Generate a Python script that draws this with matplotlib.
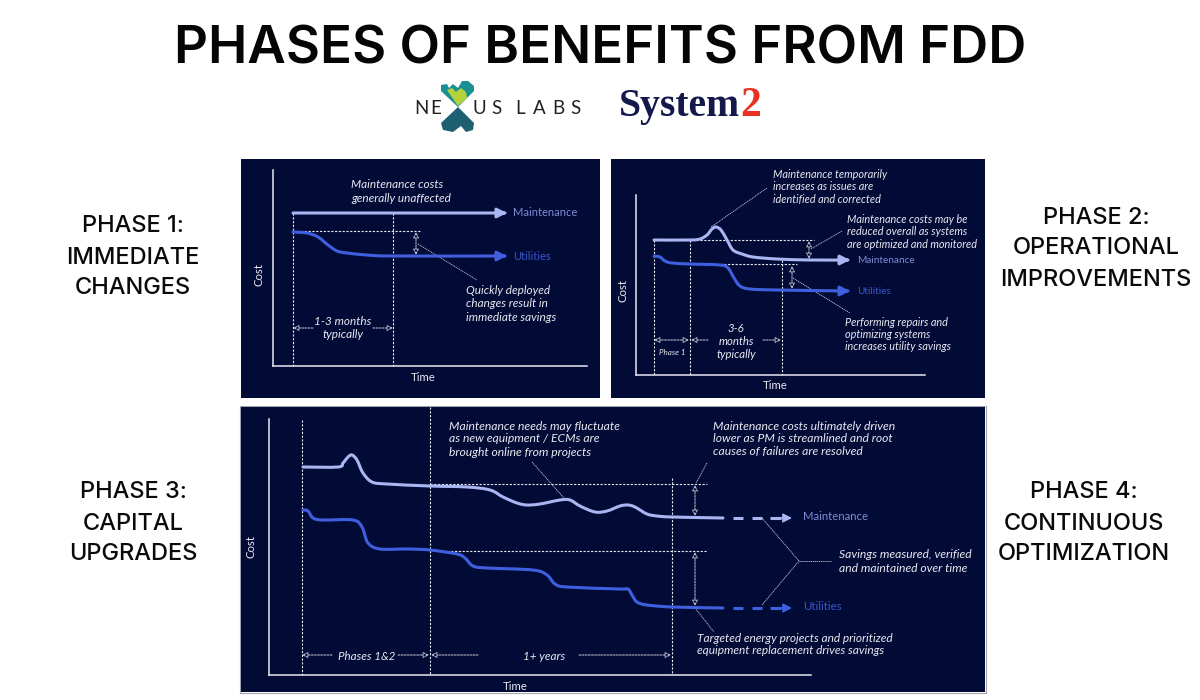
from __future__ import annotations

import matplotlib

matplotlib.use("Agg")
import matplotlib.pyplot as plt
from matplotlib.patches import PathPatch, Polygon, Rectangle
from matplotlib.path import Path

FONT = "Lato"
HEAD_FONT = "Inter"
NAVY = "#020a36"
WHITE = "#e9e9f0"
MAINT = "#a9b6f2"
UTIL = "#3f60de"
MAINT_LABEL = "#7c8bd6"
UTIL_LABEL = "#3c57cf"

# all series below are in reference image pixels (x right, y down)
P1_BOX = (241, 600, 159, 398)
P1_AXIS = (273, 587, 170, 366)
P1_MAINT_X = [293, 505]
P1_MAINT_Y = [213, 213]
P1_UTIL_X = [293, 307, 318, 328, 337, 347, 367, 393, 505]
P1_UTIL_Y = [232, 233, 237, 245, 251, 253, 255, 256, 256]

P2_BOX = (611, 985, 159, 398)
P2_AXIS = (636, 925, 195, 375)
P2_MAINT_X = [654, 690, 700, 707, 712, 716, 721, 727, 733, 742, 753, 777, 810, 848]
P2_MAINT_Y = [240, 240, 239, 235, 229, 227, 230, 240, 250, 254, 257, 259, 260, 260]
P2_UTIL_X = [654, 660, 665, 672, 690, 720, 728, 734, 740, 750, 777, 848]
P2_UTIL_Y = [256, 257, 261, 263, 264, 265, 268, 278, 286, 289, 290, 291]

P3_BOX = (241, 985, 407, 692)
P3_AXIS = (269, 811, 419, 675)
P3_MAINT_X = [303, 338, 343, 348, 352, 357, 363, 372, 387, 430, 467, 490, 503,
              517, 527, 540, 560, 570, 580, 595, 607, 620, 628, 635, 647, 657, 672, 723]
P3_MAINT_Y = [467, 467, 463, 457, 455, 460, 473, 482, 484, 486, 487, 490, 497,
              503, 505, 504, 500, 500, 506, 512, 511, 506, 505, 507, 514, 516, 517, 518]
P3_UTIL_X = [303, 308, 313, 323, 353, 362, 368, 380, 407, 430, 457, 465, 473,
             487, 533, 547, 555, 567, 620, 628, 632, 637, 647, 672, 723]
P3_UTIL_Y = [510, 511, 518, 520, 520, 527, 543, 549, 549, 550, 554, 558, 566,
             568, 570, 575, 584, 587, 589, 589, 595, 602, 605, 607, 608]
P3_MAINT_DASH_X = [733, 743, 752, 762, 770, 781]
P3_UTIL_DASH_X = [733, 743, 752, 762, 770, 781]
P3_MAINT_DASH_Y = 518
P3_UTIL_DASH_Y = 608

SIDE_LABELS = [
    (133, ["PHASE 1:", "IMMEDIATE", "CHANGES"], [224, 255, 286]),
    (1096, ["PHASE 2:", "OPERATIONAL", "IMPROVEMENTS"], [215, 246, 277]),
    (133, ["PHASE 3:", "CAPITAL", "UPGRADES"], [490, 521, 552]),
    (1084, ["PHASE 4:", "CONTINUOUS", "OPTIMIZATION"], [490, 521, 552]),
]

NEXUS_LETTERS = ["N", "E", "U", "S", "L", "A", "B", "S"]
NEXUS_X = [414, 430, 472, 491, 515, 533, 552, 570]


def make_panel(fig, box, axis):
    x0, x1, y0, y1 = box
    ax = fig.add_axes([x0 / 1200, 1 - y1 / 700, (x1 - x0) / 1200, (y1 - y0) / 700])
    ax.set_xlim(x0, x1)
    ax.set_ylim(y1, y0)
    ax.set_facecolor(NAVY)
    ax.set_xticks([])
    ax.set_yticks([])
    ax.spines[["top", "right"]].set_visible(False)
    ax.spines["left"].set_position(("data", axis[0]))
    ax.spines["left"].set_bounds(axis[2], axis[3])
    ax.spines["bottom"].set_position(("data", axis[3]))
    ax.spines["bottom"].set_bounds(axis[0], axis[1])
    for side in ("left", "bottom"):
        ax.spines[side].set_color(WHITE)
        ax.spines[side].set_linewidth(1.1)
    return ax


def dashed(ax, xs, ys, lw=0.8):
    ax.plot(xs, ys, color=WHITE, lw=lw, ls=(0, (2, 1.4)), zorder=2)


def leader(ax, xs, ys):
    ax.plot(xs, ys, color="#c8c8d4", lw=0.6, ls=(0, (1.5, 0.8)), zorder=2)


def span(ax, x0, y0, x1, y1, both=True):
    style = "<|-|>" if both else "-|>"
    ax.annotate("", xy=(x1, y1), xytext=(x0, y0),
                arrowprops=dict(arrowstyle=style + ",head_width=0.17,head_length=0.35",
                                color="#c8c8d4", lw=0.7, ls=(0, (2, 1.2)),
                                shrinkA=0, shrinkB=0, fc=NAVY),
                zorder=3)


def smooth_path(xs, ys):
    # catmull-rom style bezier through the read points, no extra data
    pts = list(zip(xs, ys))
    verts = [pts[0]]
    codes = [Path.MOVETO]
    for i in range(len(pts) - 1):
        p0 = pts[max(i - 1, 0)]
        p1 = pts[i]
        p2 = pts[i + 1]
        p3 = pts[min(i + 2, len(pts) - 1)]
        c1 = (p1[0] + (p2[0] - p0[0]) / 6, p1[1] + (p2[1] - p0[1]) / 6)
        c2 = (p2[0] - (p3[0] - p1[0]) / 6, p2[1] - (p3[1] - p1[1]) / 6)
        verts += [c1, c2, p2]
        codes += [Path.CURVE4] * 3
    return Path(verts, codes)


def curve(ax, xs, ys, color, tip=None):
    ax.add_patch(PathPatch(smooth_path(xs, ys), fc="none", ec=color, lw=2.2,
                           capstyle="round", zorder=4))
    if tip is not None:
        ax.annotate("", xy=(tip, ys[-1]), xytext=(xs[-1] - 4, ys[-1]),
                    arrowprops=dict(arrowstyle="-|>,head_width=0.28,head_length=0.55",
                                    color=color, lw=2.2, shrinkA=0, shrinkB=0),
                    zorder=4)


def note(ax, x, ys, lines, size=8.2, ha="left"):
    for y, line in zip(ys, lines):
        ax.text(x, y, line, color=WHITE, fontsize=size, style="italic", family=FONT,
                ha=ha, va="center", zorder=5)


def axis_names(ax, tx, ty, cx, cy, size=8.2):
    ax.text(tx, ty, "Time", color=WHITE, fontsize=size, family=FONT, ha="center", va="center")
    ax.text(cx, cy, "Cost", color=WHITE, fontsize=size, family=FONT, ha="center", va="center",
            rotation=90)


def series_label(ax, x, y, name, color, size=8.6):
    ax.text(x, y, name, color=color, fontsize=size, family=FONT, ha="left", va="center")


fig = plt.figure(figsize=(12, 7), dpi=100, facecolor="white")

# page layer for title, logos and side labels
page = fig.add_axes([0, 0, 1, 1])
page.set_xlim(0, 1200)
page.set_ylim(700, 0)
page.axis("off")

page.text(600, 44, "PHASES OF BENEFITS FROM FDD", fontsize=38, family=HEAD_FONT, weight="semibold",
          color="#050505", ha="center", va="center_baseline")
for x, lines, ys in SIDE_LABELS:
    for y, line in zip(ys, lines):
        page.text(x, y, line, fontsize=17, family=HEAD_FONT, weight="medium", color="#0a0a0a",
                  ha="center", va="center_baseline")

# nexus labs logo
page.add_patch(Polygon([(441, 85), (447, 84), (449, 88), (453, 84), (458, 88), (462, 81),
                        (468, 81), (474, 86), (474, 91), (458, 107), (441, 91)],
                       fc="#1c8f93", ec="none"))
page.add_patch(Polygon([(447, 90), (452, 88), (456, 92), (461, 88), (466, 92), (467, 98),
                        (458, 106)], fc="#b5d23c", ec="none"))
page.add_patch(Polygon([(458, 107), (474, 123), (473, 130), (466, 132), (461, 126), (453, 132),
                        (443, 130), (441, 123)], fc="#1d6072", ec="none"))
for x, ch in zip(NEXUS_X, NEXUS_LETTERS):
    page.text(x, 107, ch, fontsize=13.5, family=FONT, color="#222222", ha="left", va="center_baseline")

# system2 logo
page.text(619, 116, "System", fontsize=28.5, family="Liberation Serif", weight="bold",
          color="#14184a", ha="left", va="baseline")
page.text(740, 116, "2", fontsize=30, family="Liberation Serif", weight="bold",
          color="#e8321f", ha="left", va="baseline")

# thin grey edge round the big panel
page.add_patch(Rectangle((240, 406), 746, 287, fc="none", ec="#a4a4b0", lw=0.8))

# phase 1 panel
ax1 = make_panel(fig, P1_BOX, P1_AXIS)
for x, y0 in [(293, 213), (393, 213)]:
    dashed(ax1, [x, x], [y0, 366])
dashed(ax1, [293, 420], [231, 231])
span(ax1, 416, 232, 416, 255)
leader(ax1, [418, 477], [244, 280])
curve(ax1, P1_MAINT_X, P1_MAINT_Y, MAINT, tip=507)
curve(ax1, P1_UTIL_X, P1_UTIL_Y, UTIL, tip=507)
span(ax1, 313, 328, 293, 328, both=False)
span(ax1, 373, 328, 393, 328, both=False)
note(ax1, 351, [184, 198], ["Maintenance costs", "generally unaffected"], size=8.5)
note(ax1, 466, [290, 303, 317], ["Quickly deployed", "changes result in", "immediate savings"], size=8.5)
note(ax1, 343, [321, 334], ["1-3 months", "typically"], ha="center", size=8.5)
series_label(ax1, 513, 212, "Maintenance", MAINT_LABEL, size=8)
series_label(ax1, 513, 256, "Utilities", UTIL_LABEL, size=8)
axis_names(ax1, 423, 377, 259, 274)

# phase 2 panel
ax2 = make_panel(fig, P2_BOX, P2_AXIS)
for x, y0 in [(654, 240), (690, 240), (782, 260)]:
    dashed(ax2, [x, x], [y0, 375])
dashed(ax2, [700, 814], [240, 240])
dashed(ax2, [720, 797], [264, 264])
span(ax2, 809, 241, 809, 259)
span(ax2, 792, 266, 792, 289)
leader(ax2, [711, 767], [227, 188])
leader(ax2, [811, 842], [249, 231])
leader(ax2, [793, 850], [278, 313])
curve(ax2, P2_MAINT_X, P2_MAINT_Y, MAINT, tip=850)
curve(ax2, P2_UTIL_X, P2_UTIL_Y, UTIL, tip=850)
span(ax2, 654, 340, 689, 340)
span(ax2, 708, 340, 691, 340, both=False)
span(ax2, 763, 340, 781, 340, both=False)
note(ax2, 773, [174, 187, 199], ["Maintenance temporarily", "increases as issues are", "identified and corrected"],
     size=7.8)
note(ax2, 847, [219, 231, 244], ["Maintenance costs may be", "reduced overall as systems", "are optimized and monitored"],
     size=7.8)
note(ax2, 845, [322, 334, 346], ["Performing repairs and", "optimizing systems", "increases utility savings"],
     size=7.8)
note(ax2, 736, [328, 341, 354], ["3-6", "months", "typically"], ha="center")
note(ax2, 672, [352], ["Phase 1"], size=5.8, ha="center")
series_label(ax2, 857, 260, "Maintenance", MAINT_LABEL, size=7.2)
series_label(ax2, 857, 291, "Utilities", UTIL_LABEL, size=7.2)
axis_names(ax2, 775, 385, 623, 290)

# phase 3/4 panel
ax3 = make_panel(fig, P3_BOX, P3_AXIS)
for x, y0 in [(302, 420), (430, 407), (672, 478)]:
    dashed(ax3, [x, x], [y0, 675])
dashed(ax3, [430, 707], [484, 484])
dashed(ax3, [447, 707], [551, 551])
span(ax3, 695, 485, 695, 516)
span(ax3, 695, 552, 695, 606)
leader(ax3, [707, 696], [463, 483])
leader(ax3, [532, 564], [462, 498])
leader(ax3, [762, 799, 762], [518, 561, 605])
leader(ax3, [799, 831], [561, 561])
leader(ax3, [695, 714], [608, 632])
curve(ax3, P3_MAINT_X, P3_MAINT_Y, MAINT)
curve(ax3, P3_UTIL_X, P3_UTIL_Y, UTIL)
for xs, y, color in [(P3_MAINT_DASH_X, P3_MAINT_DASH_Y, MAINT), (P3_UTIL_DASH_X, P3_UTIL_DASH_Y, UTIL)]:
    for i in range(0, len(xs), 2):
        ax3.plot(xs[i:i + 2], [y, y], color=color, lw=2.2, solid_capstyle="butt", zorder=4)
    ax3.annotate("", xy=(792, y), xytext=(780, y),
                 arrowprops=dict(arrowstyle="-|>,head_width=0.28,head_length=0.55",
                                 color=color, lw=1, shrinkA=0, shrinkB=0), zorder=4)
span(ax3, 332, 655, 302, 655, both=False)
span(ax3, 398, 655, 429, 655, both=False)
span(ax3, 478, 655, 431, 655, both=False)
span(ax3, 579, 655, 671, 655, both=False)
note(ax3, 449, [426, 439, 452],
     ["Maintenance needs may fluctuate", "as new equipment / ECMs are", "brought online from projects"],
     size=8.7)
note(ax3, 713, [426, 439, 452],
     ["Maintenance costs ultimately driven", "lower as PM is streamlined and root", "causes of failures are resolved"],
     size=8.7)
note(ax3, 839, [555, 568], ["Savings measured, verified", "and maintained over time"], size=8.7)
note(ax3, 697, [638, 651], ["Targeted energy projects and prioritized", "equipment replacement drives savings"],
     size=8.6)
note(ax3, 367, [656], ["Phases 1&2"], size=8.4, ha="center")
note(ax3, 544, [656], ["1+ years"], size=8.4, ha="center")
series_label(ax3, 803, 517, "Maintenance", MAINT_LABEL, size=8.2)
series_label(ax3, 803, 607, "Utilities", UTIL_LABEL, size=8.2)
axis_names(ax3, 515, 686, 251, 546)

fig.savefig("out.png", dpi=100, facecolor="white")
